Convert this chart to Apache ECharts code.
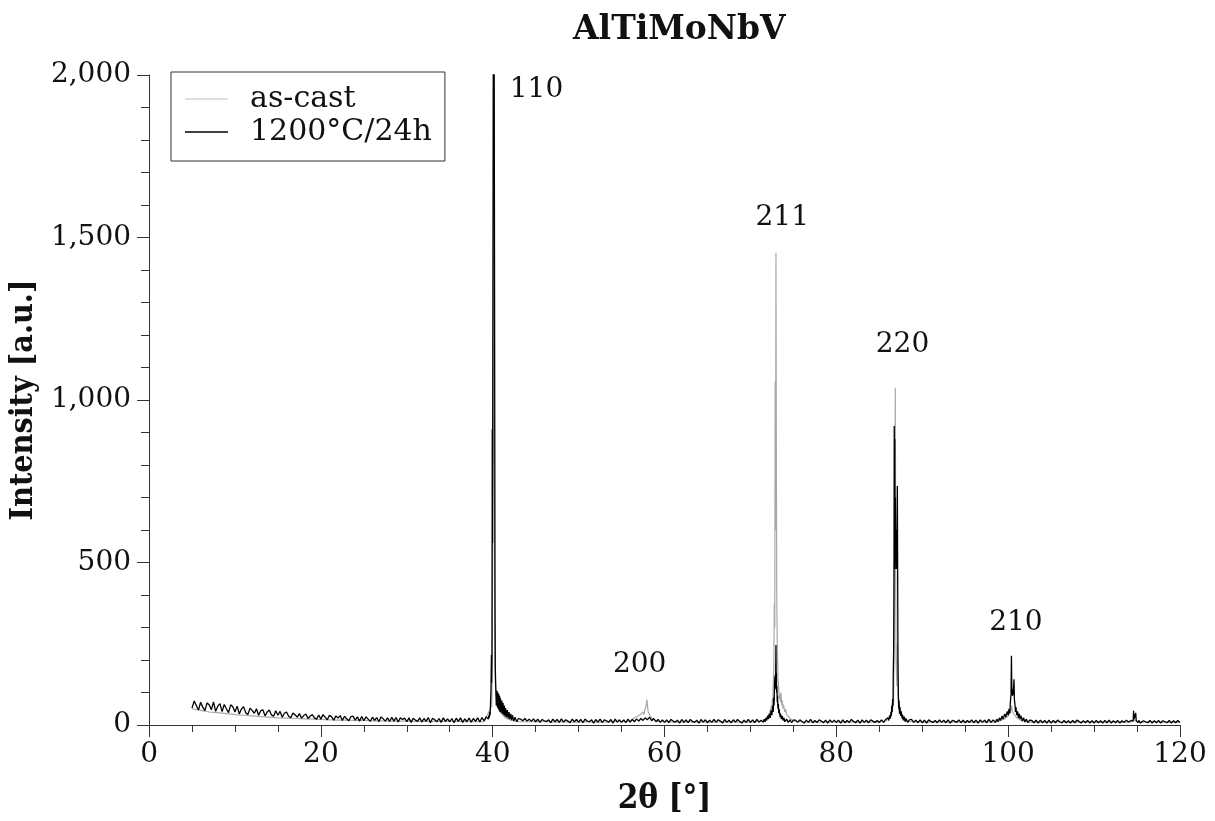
<!DOCTYPE html>
<html>
<head>
<meta charset="utf-8">
<script src="https://cdn.jsdelivr.net/npm/echarts@6/dist/echarts.min.js"></script>
<style>
html,body{margin:0;padding:0;background:#fff;}
#chart{width:1215px;height:821px;}
</style>
</head>
<body>
<div id="chart"></div>
<script>
// ---- DATA ----
const chartTitle = 'AlTiMoNbV';
const seriesNames = ['as-cast', '1200°C/24h'];
const xTicks = [0, 20, 40, 60, 80, 100, 120];
const yTicks = [0, 500, 1000, 1500, 2000];

// 1200°C/24h background scan: start 5°, step 0.25°
const blackStart = 5, blackStep = 0.25;
const blackBg = [
  52,74,60,46,70,55,44,68,62,47,71,42,58,66,41,63,50,38,62,56,
  40,58,34,49,56,38,32,52,45,36,50,30,44,47,28,40,46,31,27,44,
  30,42,24,36,40,27,22,37,31,24,35,21,29,34,20,27,32,22,18,31,
  18,32,24,16,30,25,15,28,21,29,14,27,19,13,26,27,15,25,12,26,
  13,25,18,11,24,14,23,10,25,19,12,22,11,24,12,23,9,22,17,21,
  10,22,8,21,15,11,22,9,20,11,23,7,21,16,10,20,8,22,11,19,
  10,20,7,21,11,22,8,19,10,21,9,20,11,22,9,23,13,25,15,27,
  15,21,16,22,15,20,14,19,15,21,13,19,12,18,13,20,12,18,11,19,
  10,18,8,17,13,11,16,7,18,10,17,8,19,9,16,12,7,18,10,17,
  9,17,7,18,12,10,16,6,17,9,18,8,16,13,9,17,6,18,9,16,
  8,16,7,18,9,17,10,19,12,20,14,22,16,24,13,20,10,17,8,16,
  8,16,7,17,12,9,15,6,17,8,16,7,17,11,8,15,6,17,9,16,
  7,15,8,17,9,16,12,6,17,8,15,7,16,9,17,11,6,15,8,17,
  8,16,7,17,9,15,6,17,8,16,7,17,9,16,7,15,8,17,7,16,
  7,15,8,16,11,6,15,8,17,7,14,8,16,12,7,15,6,16,8,15,
  8,15,6,16,7,14,8,17,11,7,15,6,16,8,15,7,16,12,8,14,
  8,16,7,17,8,15,7,16,8,17,7,15,8,16,7,17,8,15,7,16,
  7,15,6,16,11,8,14,7,16,8,15,7,16,6,14,12,8,16,7,15,
  7,14,8,16,7,15,6,16,8,15,7,17,8,16,9,18,10,17,11,19,
  12,18,10,17,9,16,8,15,7,16,8,14,7,15,6,15,7,14,6,15,
  6,14,7,15,10,6,14,7,13,6,14,7,15,11,6,13,7,14,6,13,
  6,14,7,13,6,14,7,15,6,13,7,14,6,13,8,15,9,16,11,17,
  8,14,6,13,10,7,14,6,13,7,14,6,13,10,7,14,6,13,7,14,
  8
];
// 1200°C/24h peaks [2θ, intensity]
const blackPeak110 = [[39.5,18],[39.55,30],[39.6,22],[39.65,40],[39.7,30],[39.75,70],[39.8,110],[39.85,215],[39.88,130],[39.92,230],[39.95,910],[39.98,560],[40.12,3000],[40.27,390],[40.3,180],[40.35,120],[40.42,60],[40.5,105],[40.55,55],[40.6,100],[40.65,50],[40.7,95],[40.75,45],[40.8,90],[40.85,40],[40.9,82],[41.0,38],[41.05,75],[41.15,34],[41.2,68],[41.3,30],[41.35,60],[41.45,26],[41.5,52],[41.6,24],[41.7,46],[41.8,20],[41.9,40],[42.0,18],[42.1,34],[42.2,15],[42.3,30],[42.45,12],[42.6,24],[42.8,10],[43.0,20]];
const blackPeak211 = [[71.5,8],[71.6,18],[71.7,10],[71.8,22],[71.9,14],[72.0,28],[72.1,18],[72.2,34],[72.3,22],[72.4,45],[72.5,30],[72.6,60],[72.65,40],[72.7,85],[72.75,60],[72.8,120],[72.85,150],[72.88,110],[72.9,155],[72.93,130],[72.97,246],[73.0,140],[73.02,160],[73.05,100],[73.08,120],[73.12,70],[73.15,90],[73.2,50],[73.25,65],[73.3,36],[73.35,48],[73.45,24],[73.5,35],[73.6,18],[73.7,28],[73.8,14],[73.9,22],[74.0,10],[74.2,18],[74.4,8],[74.6,16],[74.8,7],[75.0,15]];
const blackPeak220 = [[85.5,8],[85.7,16],[85.8,10],[86.0,22],[86.1,14],[86.2,30],[86.3,20],[86.35,40],[86.4,28],[86.45,60],[86.5,40],[86.55,80],[86.6,60],[86.62,150],[86.67,233],[86.7,400],[86.74,920],[86.77,600],[86.8,880],[86.83,480],[86.87,700],[86.9,520],[86.95,600],[87.0,480],[87.05,560],[87.1,735],[87.13,520],[87.17,200],[87.22,90],[87.26,50],[87.3,75],[87.35,35],[87.4,55],[87.5,28],[87.55,42],[87.65,20],[87.7,32],[87.8,14],[87.9,26],[88.0,10],[88.1,20],[88.3,8],[88.5,16]];
const blackPeak210 = [[98.5,8],[98.7,18],[98.8,10],[99.0,22],[99.1,14],[99.3,28],[99.4,18],[99.6,34],[99.7,24],[99.9,42],[100.0,30],[100.1,50],[100.2,36],[100.25,70],[100.33,95],[100.38,213],[100.42,120],[100.5,90],[100.6,100],[100.68,141],[100.72,80],[100.8,60],[100.85,40],[100.9,55],[101.0,30],[101.1,42],[101.2,22],[101.3,34],[101.4,18],[101.5,28],[101.65,12],[101.8,22],[101.95,9],[102.1,18],[102.3,7],[102.5,15]];
const blackPeak115 = [[114.2,7],[114.3,14],[114.4,8],[114.5,16],[114.55,12],[114.6,44],[114.65,18],[114.75,24],[114.8,14],[114.85,37],[114.9,14],[115.0,18],[115.1,7],[115.2,14],[115.4,6]];

// as-cast background scan: start 5°, step 1°
const grayStart = 5, grayStep = 1;
const grayBg = [
  50,45,40,38,35,32,30,28,26,24,
  22,21,20,19,18,17,16,15,15,14,
  14,13,13,12,12,12,11,11,11,11,
  11,11,10,10,10,10,10,10,10,10,
  10,10,9,10,9,9,10,9,9,10,
  10,11,12,14,12,10,9,9,10,9,
  9,9,10,9,9,9,10,9,10,9,
  9,10,9,9,10,9,9,10,9,9,
  9,10,9,9,10,9,9,10,9,9,
  9,9,10,9,10,9,9,10,9,9,
  9,10,9,9,10,9,9,10,9,9,
  9,9,10,9,9,9
];
// as-cast peaks [2θ, intensity]
const grayPeak110 = [[39.9,60],[40.0,700],[40.06,1060],[40.1,1650],[40.16,1000],[40.22,300],[40.3,140],[40.4,90],[40.6,55],[41.0,35],[41.5,22],[42.0,16]];
const grayPeak200 = [[56.0,12],[56.3,20],[56.5,14],[56.8,26],[57.0,20],[57.2,32],[57.3,26],[57.5,40],[57.6,32],[57.7,46],[57.8,40],[57.85,58],[57.95,78],[58.05,50],[58.1,40],[58.2,44],[58.3,30],[58.4,34],[58.55,20],[58.7,24],[59.0,12],[59.5,10]];
const grayPeak211 = [[71.5,12],[71.8,20],[72.0,16],[72.1,30],[72.2,24],[72.3,42],[72.4,36],[72.45,60],[72.5,48],[72.55,80],[72.6,70],[72.65,120],[72.72,180],[72.78,372],[72.83,300],[72.88,1058],[72.92,600],[72.97,1453],[73.02,827],[73.06,400],[73.12,250],[73.2,150],[73.3,110],[73.35,80],[73.4,95],[73.5,70],[73.55,100],[73.65,60],[73.7,75],[73.8,50],[73.85,62],[74.0,40],[74.1,48],[74.2,32],[74.35,38],[74.5,24],[74.65,26],[74.8,16],[75.2,12]];
const grayPeak220 = [[85.5,10],[86.0,16],[86.3,25],[86.5,40],[86.65,70],[86.75,300],[86.82,700],[86.86,1038],[86.9,600],[86.95,200],[87.05,120],[87.12,250],[87.18,90],[87.3,50],[87.5,30],[87.8,20],[88.2,13],[88.6,10]];
const grayPeak210 = [[98.5,9],[99.5,18],[100.0,28],[100.3,45],[100.4,60],[100.5,40],[100.7,35],[101.0,22],[101.5,14],[102.5,9]];
const grayPeak115 = [[114.3,9],[114.55,14],[114.62,25],[114.7,14],[114.85,18],[115.0,10],[115.3,9]];

// Peak labels (Miller indices) at [2θ, intensity]
const peakLabels = ['110', '200', '211', '220', '210'];
const peakLabelTheta = [45.1, 57.1, 73.7, 87.7, 100.9];
const peakLabelIntensity = [1954, 184, 1561, 1170, 316];

// ---- BUILD ----
function build(start, step, bg, segments) {
  const ranges = segments.map(s => [s[0][0], s[s.length - 1][0]]);
  const pts = [];
  bg.forEach((v, i) => {
    const x = +(start + i * step).toFixed(3);
    if (!ranges.some(r => x >= r[0] && x <= r[1])) pts.push([x, v]);
  });
  segments.forEach(s => s.forEach(p => pts.push(p)));
  pts.sort((a, b) => a[0] - b[0]);
  return pts;
}
const grayData = build(grayStart, grayStep, grayBg, [grayPeak110, grayPeak200, grayPeak211, grayPeak220, grayPeak210, grayPeak115]);
const blackData = build(blackStart, blackStep, blackBg, [blackPeak110, blackPeak211, blackPeak220, blackPeak210, blackPeak115]);
const labelData = peakLabels.map((n, i) => ({ name: n, value: [peakLabelTheta[i], peakLabelIntensity[i]] }));

const serif = 'DejaVu Serif';
const chart = echarts.init(document.getElementById('chart'), null, { renderer: 'canvas' });
chart.setOption({
  animation: false,
  backgroundColor: '#fff',
  title: {
    text: chartTitle,
    left: 568, top: 9,
    textStyle: { fontFamily: serif, fontWeight: 'bold', fontSize: 33, color: '#111' }
  },
  legend: {
    left: 171, top: 72,
    orient: 'vertical',
    icon: 'rect',
    data: [
      { name: seriesNames[0], itemStyle: { color: '#d4d4d4' } },
      { name: seriesNames[1], itemStyle: { color: '#000' } }
    ],
    itemWidth: 43, itemHeight: 1.5, itemGap: 3,
    padding: [12, 13, 14, 14],
    borderColor: '#333', borderWidth: 1, backgroundColor: '#fff',
    textStyle: { fontFamily: serif, fontSize: 30, color: '#111', lineHeight: 30, padding: [0, 0, 0, 17] }
  },
  grid: { left: 148, right: 35, top: 75, bottom: 95, containLabel: false },
  xAxis: {
    type: 'value', min: xTicks[0], max: xTicks[xTicks.length - 1], interval: 20,
    name: '2θ [°]', nameLocation: 'middle', nameGap: 58,
    nameTextStyle: { fontFamily: 'DejaVu Serif Condensed', fontWeight: 'bold', fontSize: 33, color: '#111' },
    axisLine: { onZero: false, lineStyle: { color: '#333', width: 1 } },
    axisTick: { show: true, length: 12, lineStyle: { color: '#333' } },
    minorTick: { show: true, splitNumber: 4, length: 7, lineStyle: { color: '#333' } },
    splitLine: { show: false },
    axisLabel: { fontFamily: serif, fontSize: 28, color: '#111', margin: 16 }
  },
  yAxis: {
    type: 'value', min: yTicks[0], max: yTicks[yTicks.length - 1], interval: 500,
    name: 'Intensity [a.u.]', nameLocation: 'middle', nameGap: 106,
    nameTextStyle: { fontFamily: 'DejaVu Serif Condensed', fontWeight: 'bold', fontSize: 32, color: '#111' },
    axisLine: { show: true, lineStyle: { color: '#333', width: 1 } },
    axisTick: { show: true, length: 12, lineStyle: { color: '#333' } },
    minorTick: { show: true, splitNumber: 5, length: 8, lineStyle: { color: '#333' } },
    splitLine: { show: false },
    axisLabel: {
      fontFamily: serif, fontSize: 28, color: '#111', margin: 18,
      formatter: v => v.toLocaleString('en-US')
    }
  },
  series: [
    {
      name: seriesNames[0], type: 'line', data: grayData,
      symbol: 'none', showSymbol: false, clip: true,
      color: '#a8a8a8', lineStyle: { color: '#a8a8a8', width: 1.2 }
    },
    {
      name: seriesNames[1], type: 'line', data: blackData,
      symbol: 'none', showSymbol: false, clip: true,
      color: '#000', lineStyle: { color: '#000', width: 1.3 }
    },
    {
      name: 'labels', type: 'scatter', data: labelData, symbolSize: 0, silent: true, clip: false,
      itemStyle: { opacity: 1 },
      label: { show: true, position: 'inside', formatter: '{b}', fontFamily: serif, fontSize: 28, color: '#111', opacity: 1, textBorderWidth: 0 }
    }
  ]
});
</script>
</body>
</html>
